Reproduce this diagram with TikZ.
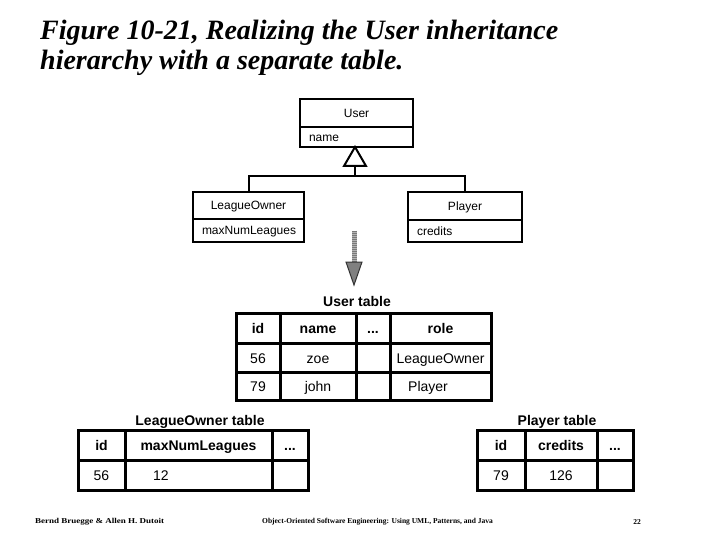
\documentclass[tikz,border=0pt]{standalone}
\usepackage{fontspec}
\setmainfont{Liberation Serif}
\setsansfont{Liberation Sans}
\newfontfamily\arialfont{Liberation Sans}
\begin{document}
\begin{tikzpicture}[x=1pt,y=-1pt,
  umlbox/.style={draw, line width=2pt, rectangle, inner sep=0pt, outer sep=0pt, text height=10.5pt, text depth=1.5pt, font=\arialfont\fontsize{12}{14}\selectfont},
  attrbox/.style={umlbox, align=left, text width=#1, inner xsep=9pt},
  cell/.style={draw, line width=3pt, rectangle, inner sep=0pt, outer sep=0pt, text height=13pt, text depth=2pt, font=\arialfont\fontsize{14}{16}\selectfont},
  hcell/.style={cell, font=\arialfont\bfseries\fontsize{14}{16}\selectfont},
  tlabel/.style={font=\arialfont\bfseries\fontsize{14}{16}\selectfont, inner sep=0pt, text height=12pt, text depth=2pt},
  vtext/.style={font=\arialfont\fontsize{14}{16}\selectfont, inner sep=0pt, text height=13pt, text depth=2pt},
  ttext/.style={font=\bfseries\itshape\fontsize{28}{30}\selectfont, inner sep=0pt, anchor=base west},
  foot/.style={font=\fontsize{7.5}{9}\selectfont\bfseries, inner sep=0pt}
]
\useasboundingbox[fill=white] (0,0) rectangle (720,540);

% title
\node[ttext] (title1) at (40,40) {Figure 10-21, Realizing the User inheritance};
\node[ttext] (title2) at (40,70) {hierarchy with a separate table.};

% UML classes
\node[umlbox, minimum width=113pt, minimum height=28pt] (user) at (356.5,113) {User};
\node[attrbox=95pt, minimum height=20pt, anchor=north] (userattr) at (user.south) {name};

\node[umlbox, minimum width=111pt, minimum height=27pt] (owner) at (248.5,205.5) {LeagueOwner};
\node[attrbox=93pt, minimum height=23pt, anchor=north] (ownerattr) at (owner.south) {maxNumLeagues};

\node[umlbox, minimum width=114pt, minimum height=28pt] (player) at (465,206) {Player};
\node[attrbox=96pt, minimum height=22pt, anchor=north] (playerattr) at (player.south) {credits};

% inheritance
\coordinate (tipA) at (355,147);
\coordinate (triL) at (344,166);
\coordinate (triR) at (366,166);
\coordinate (triB) at (355,166);
\coordinate (junc) at (355,176);
\draw[line width=2pt, line join=miter] (tipA) -- (triR) -- (triL) -- cycle;
\draw[line width=2pt] (triB) -- (junc);
\draw[line width=2pt] (owner.north) |- (junc) -| (player.north);

% mapping arrow
\coordinate (mapA) at (354,231);
\coordinate (mapB) at (354,262);
\coordinate (mapL) at (346,262);
\coordinate (mapR) at (362,262);
\coordinate (mapT) at (354,285);
\draw[line width=5pt, draw=gray!60] (mapA) -- (mapB);
\draw[line width=5pt, draw=gray!95!black, dash pattern=on 1pt off 1pt] (mapA) -- (mapB);
\draw[fill=gray, draw=black!80, line width=1pt, line join=miter] (mapL) -- (mapR) -- (mapT) -- cycle;

% User table
\node[tlabel] (utl) at (357,301.5) {User table};
\node[hcell, minimum width=44pt, minimum height=30pt] (u11) at (258,328) {id};
\node[hcell, minimum width=76pt, minimum height=30pt] (u12) at (318,328) {name};
\node[hcell, minimum width=34pt, minimum height=30pt] (u13) at (373,328) {...};
\node[hcell, minimum width=101pt, minimum height=30pt] (u14) at (440.5,328) {role};
\node[cell, minimum width=44pt, minimum height=29pt] (u21) at (258,357.5) {56};
\node[cell, minimum width=76pt, minimum height=29pt] (u22) at (318,357.5) {zoe};
\node[cell, minimum width=34pt, minimum height=29pt] (u23) at (373,357.5) {};
\node[cell, minimum width=101pt, minimum height=29pt] (u24) at (440.5,357.5) {LeagueOwner};
\node[cell, minimum width=44pt, minimum height=28pt] (u31) at (258,386) {79};
\node[cell, minimum width=76pt, minimum height=28pt] (u32) at (318,386) {john};
\node[cell, minimum width=34pt, minimum height=28pt] (u33) at (373,386) {};
\node[cell, minimum width=101pt, minimum height=28pt] (u34) at (440.5,386) {};
\node[vtext] (u34t) at (428,386) {Player};

% LeagueOwner table
\node[tlabel] (otl) at (200,420) {LeagueOwner table};
\node[hcell, minimum width=47pt, minimum height=30pt] (o11) at (101.5,445) {id};
\node[hcell, minimum width=147pt, minimum height=30pt] (o12) at (198.5,445) {maxNumLeagues};
\node[hcell, minimum width=36pt, minimum height=30pt] (o13) at (290,445) {...};
\node[cell, minimum width=47pt, minimum height=30pt] (o21) at (101.5,475) {56};
\node[cell, minimum width=147pt, minimum height=30pt] (o22) at (198.5,475) {};
\node[cell, minimum width=36pt, minimum height=30pt] (o23) at (290,475) {};
\node[vtext] (o22t) at (161,475) {12};

% Player table
\node[tlabel] (ptl) at (557,420) {Player table};
\node[hcell, minimum width=48pt, minimum height=30pt] (p11) at (501,445) {id};
\node[hcell, minimum width=72pt, minimum height=30pt] (p12) at (561,445) {credits};
\node[hcell, minimum width=36pt, minimum height=30pt] (p13) at (615,445) {...};
\node[cell, minimum width=48pt, minimum height=30pt] (p21) at (501,475) {79};
\node[cell, minimum width=72pt, minimum height=30pt] (p22) at (561,475) {126};
\node[cell, minimum width=36pt, minimum height=30pt] (p23) at (615,475) {};

% footer
\node[foot, anchor=west] (f1) at (35,522) {\scalebox{1.2}[1]{Bernd Bruegge \& Allen H. Dutoit}};
\node[foot] (f2) at (377.5,522) {Object-Oriented Software Engineering: Using UML, Patterns, and Java};
\node[foot] (f3) at (637,522) {22};
\end{tikzpicture}
\end{document}
